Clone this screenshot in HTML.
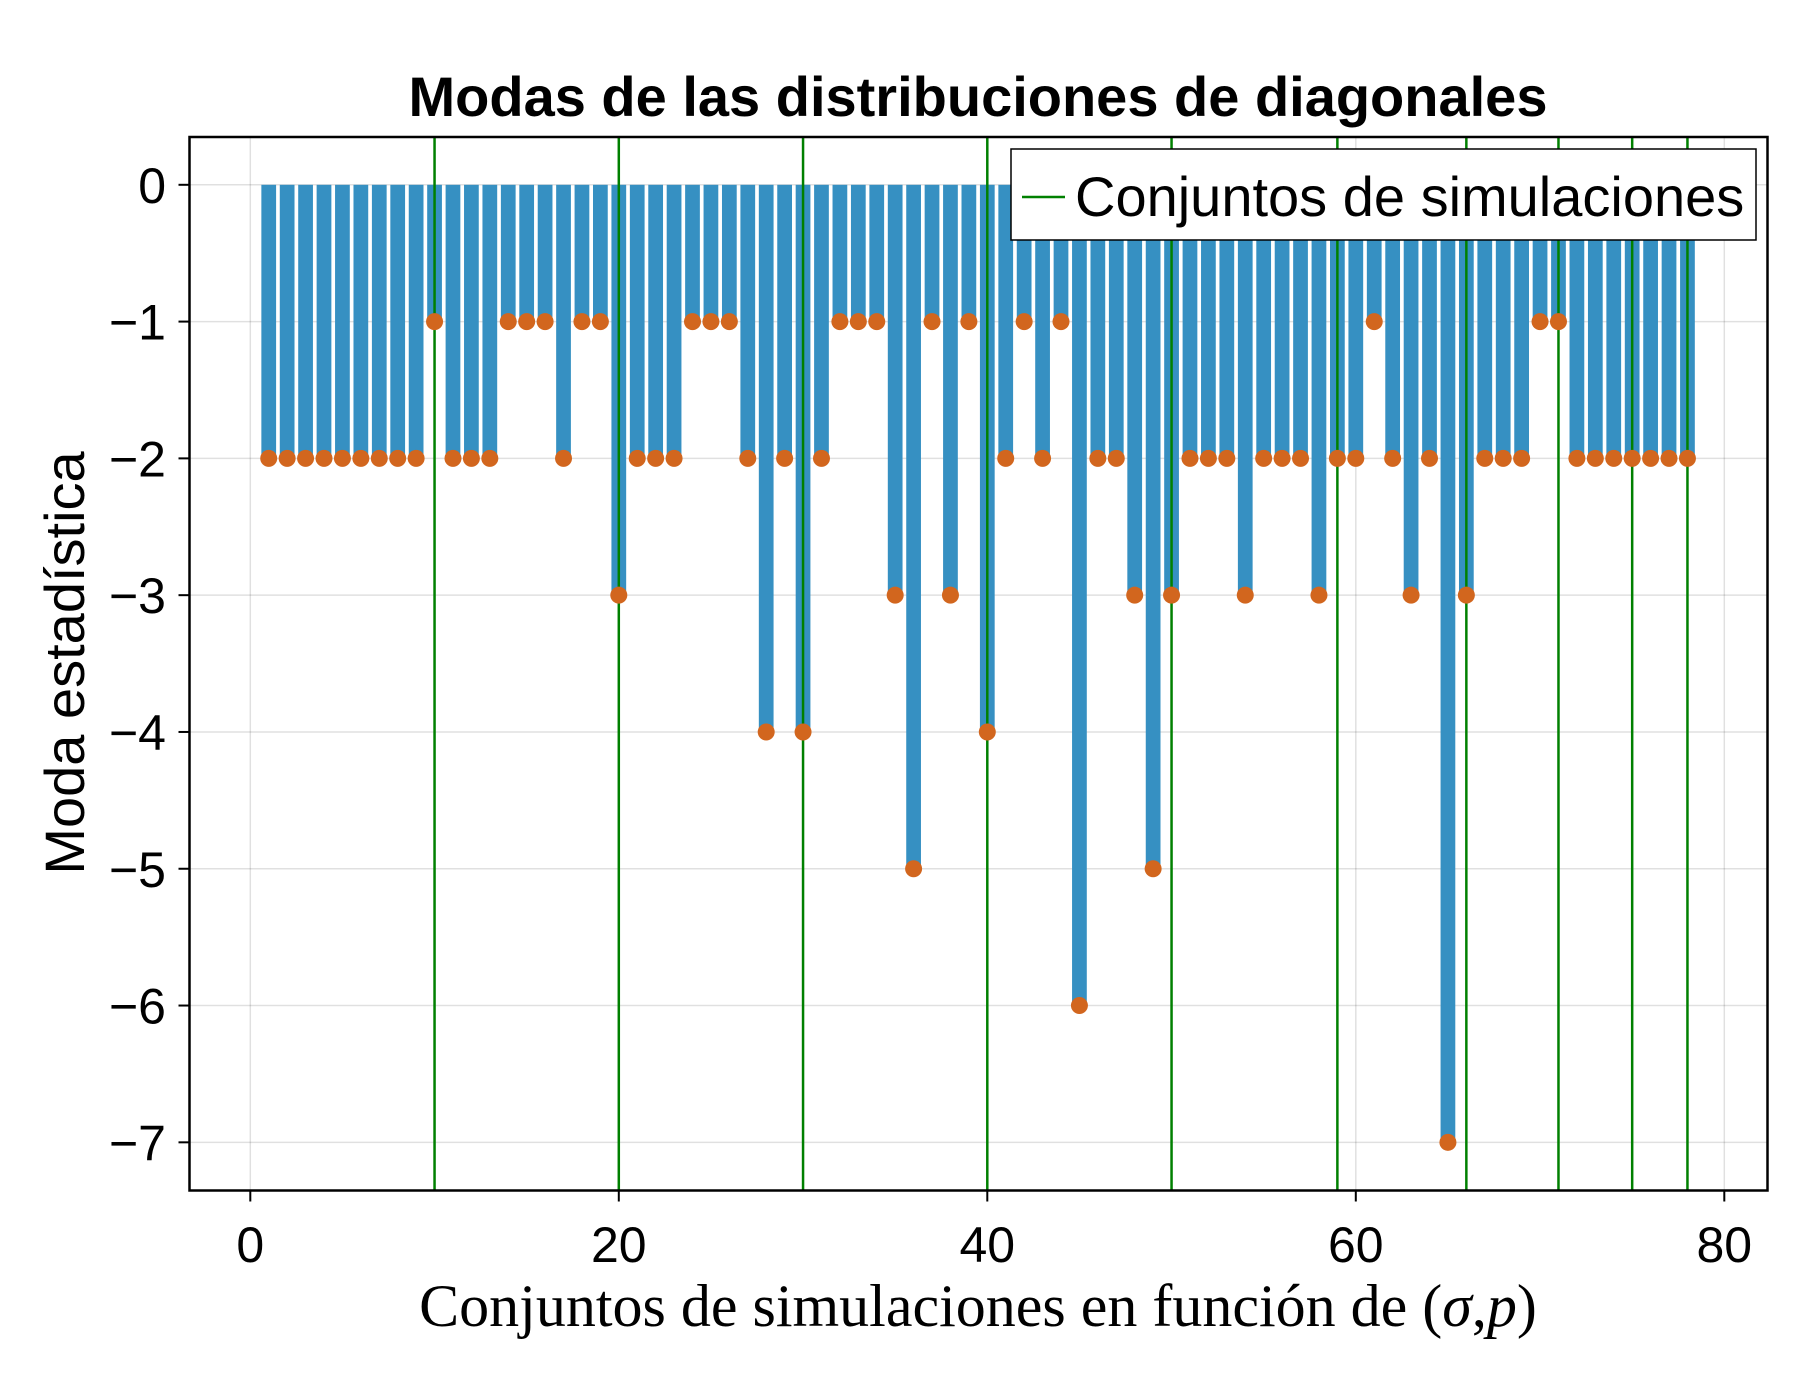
<!DOCTYPE html>
<html><head><meta charset="utf-8"><style>html,body{margin:0;padding:0;background:#fff}svg{display:block}</style></head>
<body>
<svg id="chart" width="1800" height="1400" xmlns="http://www.w3.org/2000/svg" font-family="Liberation Sans, sans-serif">
<rect width="1800" height="1400" fill="#fff"/>
<text x="978" y="116" text-anchor="middle" font-size="56" font-weight="bold">Modas de las distribuciones de diagonales</text>
<g id="grid"></g><g id="bars"></g><g id="vlines"></g><g id="dots"></g>
<rect x="189.5" y="137" width="1578" height="1053.5" fill="none" stroke="#000" stroke-width="2.5"/>
<g id="axes"></g>
<text transform="translate(84,663) rotate(-90)" text-anchor="middle" font-size="56">Moda estadística</text>
<text x="978" y="1326" text-anchor="middle" font-size="60" font-family="Liberation Serif, serif">Conjuntos de simulaciones en función de (<tspan font-style="italic">σ</tspan>,<tspan font-style="italic">p</tspan>)</text>
<g>
<rect x="1011" y="149" width="745" height="91" fill="#fff" stroke="#000" stroke-width="1.5"/>
<line x1="1022" y1="197" x2="1065" y2="197" stroke="#008000" stroke-width="2.5"/>
<text x="1075" y="216" font-size="56">Conjuntos de simulaciones</text>
</g>
</svg>
<script>
const categories = Array.from({length:78},(_,i)=>i+1);
const modes = [-2,-2,-2,-2,-2,-2,-2,-2,-2,-1,
 -2,-2,-2,-1,-1,-1,-2,-1,-1,-3,
 -2,-2,-2,-1,-1,-1,-2,-4,-2,-4,
 -2,-1,-1,-1,-3,-5,-1,-3,-1,-4,
 -2,-1,-2,-1,-6,-2,-2,-3,-5,-3,
 -2,-2,-2,-3,-2,-2,-2,-3,-2,-2,
 -1,-2,-3,-2,-7,-3,-2,-2,-2,-1,
 -1,-2,-2,-2,-2,-2,-2,-2];
const groupLines = [10,20,30,40,50,59,66,71,75,78];
const xTicks = [0,20,40,60,80];
const yTicks = [0,-1,-2,-3,-4,-5,-6,-7];
const yTickLabels = ["0","−1","−2","−3","−4","−5","−6","−7"];

const X = v => 250.3 + v*18.425;
const Y = v => 184.8 - v*136.79;
const NS='http://www.w3.org/2000/svg';
function mk(parent,tag,attrs){const e=document.createElementNS(NS,tag);for(const k in attrs)e.setAttribute(k,attrs[k]);document.getElementById(parent).appendChild(e);return e;}
const pTop=137, pBot=1190.5, pLeft=189.5, pRight=1767.5;
xTicks.forEach(t=>{
  const g=mk('grid','line',{x1:X(t),x2:X(t),y1:pTop,y2:pBot,stroke:'#000','stroke-opacity':0.12,'stroke-width':1.5});
  
  
  const tk=mk('axes','line',{x1:X(t),x2:X(t),y1:pBot,y2:pBot+11,stroke:'#000','stroke-width':2});
  
  
  const tx=mk('axes','text',{x:X(t),y:1262,'text-anchor':'middle','font-size':50});
  tx.textContent=t;
  
  
});
yTicks.forEach((t,i)=>{
  const g=mk('grid','line',{x1:pLeft,x2:pRight,y1:Y(t),y2:Y(t),stroke:'#000','stroke-opacity':0.12,'stroke-width':1.5});
  
  
  const tk=mk('axes','line',{x1:pLeft-11,x2:pLeft,y1:Y(t),y2:Y(t),stroke:'#000','stroke-width':2});
  
  
  const tx=mk('axes','text',{x:166,y:Y(t)+18,'text-anchor':'end','font-size':50});
  tx.textContent=yTickLabels[i];
  
  
});
categories.forEach((c,i)=>{
  const v=modes[i], w=0.8*18.425;
  const b=mk('bars','rect',{x:X(c)-w/2,y:Y(0),width:w,height:Y(v)-Y(0),fill:'#3690c2'});
  
  
  const d=mk('dots','circle',{cx:X(c),cy:Y(v),r:8.5,fill:'#d2661e'});
  
  
});
groupLines.forEach(g=>{
  const l=mk('vlines','line',{x1:X(g),x2:X(g),y1:pTop,y2:pBot,stroke:'#008000','stroke-width':2.5});
  
  
});
</script>
</body></html>
